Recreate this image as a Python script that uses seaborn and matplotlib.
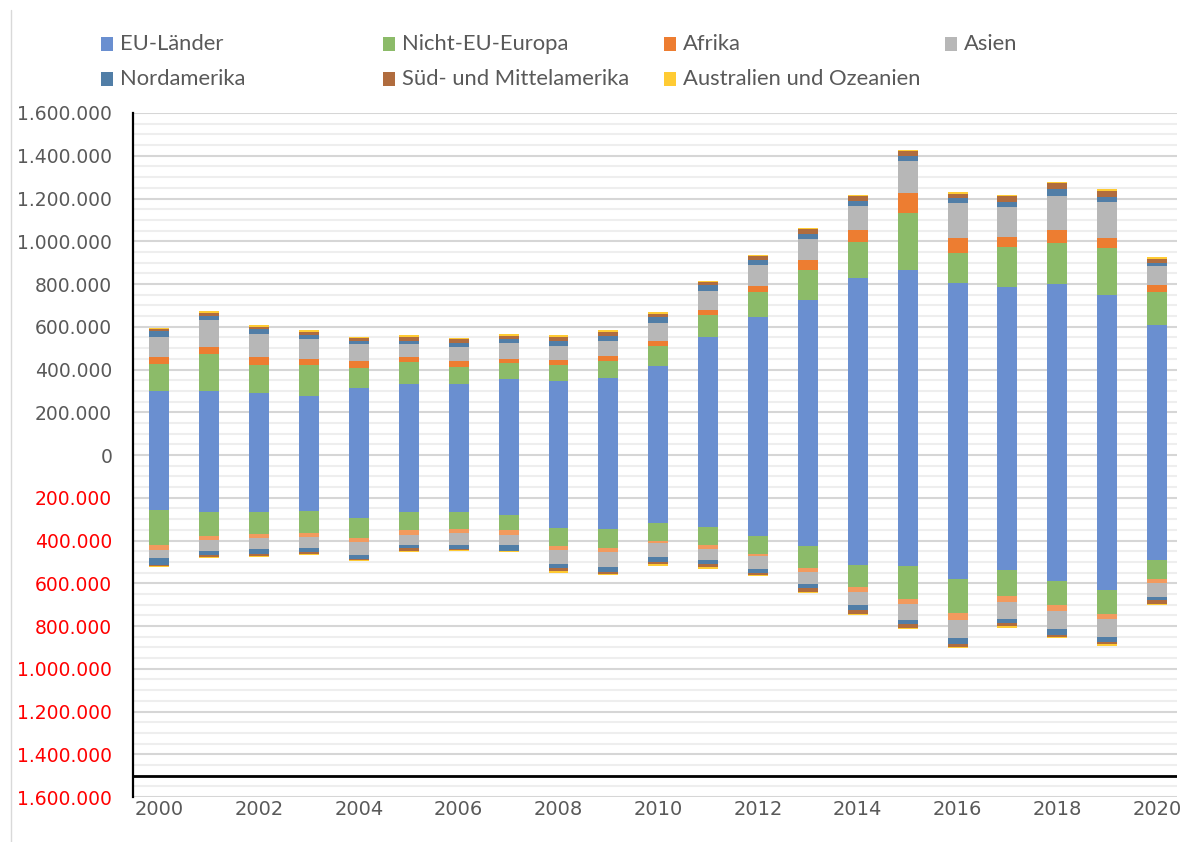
import pandas as pd
import matplotlib
matplotlib.use("Agg")
import matplotlib.pyplot as plt
from matplotlib.patches import Rectangle
from matplotlib.lines import Line2D
from matplotlib.ticker import MultipleLocator
import seaborn as sns

years = list(range(2000, 2021))
regions = ["EU-Länder", "Nicht-EU-Europa", "Afrika", "Asien", "Nordamerika",
           "Süd- und Mittelamerika", "Australien und Ozeanien"]

# Zuzüge nach Herkunftsregion (Tausend Personen)
zu_eu = [300, 300, 289, 278, 313, 331, 331, 356, 348, 362, 415, 552, 647, 727, 830, 864, 805, 787, 798, 750, 607]
zu_nicht_eu = [127, 174, 132, 143, 95, 103, 82, 76, 73, 76, 96, 101, 116, 137, 166, 270, 138, 186, 192, 217, 156]
zu_afrika = [30, 31, 36, 30, 32, 23, 27, 19, 23, 25, 24, 25, 29, 48, 55, 90, 72, 47, 61, 48, 31]
zu_asien = [95, 125, 108, 90, 78, 61, 65, 71, 67, 72, 84, 91, 97, 97, 112, 150, 162, 139, 162, 169, 89]
zu_nordamerika = [27, 19, 24, 19, 17, 17, 17, 19, 22, 23, 25, 25, 23, 23, 25, 26, 24, 25, 30, 23, 17]
zu_suedamerika = [9, 17, 11, 17, 11, 18, 19, 17, 20, 19, 17, 15, 17, 24, 24, 21, 22, 28, 29, 30, 18]
zu_ozeanien = [6, 6, 7, 6, 6, 7, 5, 8, 7, 6, 7, 6, 7, 6, 6, 6, 6, 6, 7, 6, 7]

# Fortzüge nach Zielregion (Tausend Personen), unterhalb der Nulllinie
fort_eu = [257, 269, 269, 263, 297, 269, 269, 280, 341, 348, 317, 335, 379, 426, 515, 521, 582, 540, 588, 630, 493]
fort_nicht_eu = [163, 109, 101, 101, 92, 84, 76, 73, 84, 89, 84, 84, 84, 103, 102, 151, 156, 120, 114, 114, 89]
fort_afrika = [23, 19, 19, 19, 17, 19, 19, 19, 18, 18, 11, 19, 11, 17, 24, 23, 35, 29, 29, 23, 17]
fort_asien = [41, 53, 53, 53, 61, 47, 55, 47, 66, 67, 66, 55, 59, 59, 61, 78, 85, 78, 85, 84, 65]
fort_nordamerika = [29, 17, 22, 20, 20, 18, 20, 28, 18, 24, 23, 17, 17, 19, 25, 19, 25, 19, 24, 25, 13]
fort_suedamerika = [7, 9, 7, 6, 6, 11, 4, 4, 16, 11, 9, 15, 11, 17, 15, 16, 14, 15, 11, 10, 18]
fort_ozeanien = [4, 6, 7, 5, 5, 6, 5, 5, 7, 6, 7, 7, 7, 6, 6, 6, 6, 7, 7, 6, 7]

colors_zu = ["#6A8FD0", "#8CBB69", "#ED7D31", "#B7B7B7", "#517EA7", "#B06C3E", "#FFCB33"]
colors_fort = ["#6A8FD0", "#8CBB69", "#F29A5E", "#B7B7B7", "#517EA7", "#B06C3E", "#FFCB33"]

y_ticks = list(range(-1600000, 1600001, 200000))

zu = [zu_eu, zu_nicht_eu, zu_afrika, zu_asien, zu_nordamerika, zu_suedamerika, zu_ozeanien]
fort = [fort_eu, fort_nicht_eu, fort_afrika, fort_asien, fort_nordamerika, fort_suedamerika, fort_ozeanien]


def long_frame(series, sign):
    rows = []
    for reg, vals in zip(regions, series):
        for yr, v in zip(years, vals):
            rows.append({"Jahr": yr, "Region": reg, "Personen": sign * v * 1000})
    return pd.DataFrame(rows)


zu_df = long_frame(zu, 1)
fort_df = long_frame(fort, -1)

sns.set_theme(style="white")
plt.rcParams["font.family"] = ["DejaVu Sans"]

W, H = 1183, 842
fig = plt.figure(figsize=(W / 100, H / 100), dpi=100)
ax = fig.add_axes([133 / W, 1 - 797 / H, (1177 - 133) / W, (797 - 113) / H])

# EU stacked at the base, the smaller regions on top (seaborn stacks the last hue level first)
stack_order = regions[::-1]
for frame, cols in ((zu_df, colors_zu), (fort_df, colors_fort)):
    sns.histplot(data=frame, x="Jahr", weights="Personen", hue="Region",
                 hue_order=stack_order, multiple="stack", discrete=True,
                 shrink=0.4, palette=dict(zip(regions, cols)), alpha=1,
                 edgecolor="none", linewidth=0, legend=False, ax=ax, zorder=3)

ax.set_xlim(1999.47, 2020.40)
ax.set_ylim(-1600000, 1600000)
ax.set_xlabel("")
ax.set_ylabel("")

# gridlines
ax.set_axisbelow(True)
ax.yaxis.set_minor_locator(MultipleLocator(50000))
ax.grid(which="major", axis="y", color="#D6D6D6", linewidth=1.5, zorder=0)
ax.grid(which="minor", axis="y", color="#EEEEEE", linewidth=1.5, zorder=0)
ax.grid(which="both", axis="x", visible=False)

for side in ("top", "right", "bottom"):
    ax.spines[side].set_visible(False)
ax.spines["left"].set_color("black")
ax.spines["left"].set_linewidth(1.6)
ax.axhline(-1500000, color="black", linewidth=2.0, zorder=4)

# y ticks: positive grey, negative red, shown without sign
ax.set_yticks(y_ticks)
ax.set_yticklabels([f"{abs(v):,}".replace(",", ".") for v in y_ticks])
for lab, v in zip(ax.get_yticklabels(), y_ticks):
    lab.set_color("#FF0000" if v < 0 else "#595959")
ax.tick_params(axis="y", which="both", length=0, pad=15, labelsize=13.5)

ax.set_xticks(list(range(2000, 2021, 2)))
ax.set_xticklabels([str(y) for y in range(2000, 2021, 2)])
ax.tick_params(axis="x", which="both", length=0, pad=2, labelsize=14, labelcolor="#595959")

# chart-area border on the left
fig.add_artist(Line2D([11 / W, 11 / W], [0, 1 - 10 / H], transform=fig.transFigure,
                      color="#D9D9D9", linewidth=1))

# legend in four fixed columns, two rows
legend_slots = [(101, 44), (383, 44), (664, 44), (945, 44), (101, 79), (383, 79), (664, 79)]
for (px, py), reg, col in zip(legend_slots, regions, colors_zu):
    fig.add_artist(Rectangle((px / W, 1 - (py + 6.5) / H), 12 / W, 13 / H,
                             transform=fig.transFigure, facecolor=col, edgecolor="none"))
    fig.text((px + 19) / W, 1 - py / H, reg, ha="left", va="center",
             fontsize=15.8, color="#595959", family=["Lato", "DejaVu Sans"])

fig.savefig("out.png", dpi=100)
